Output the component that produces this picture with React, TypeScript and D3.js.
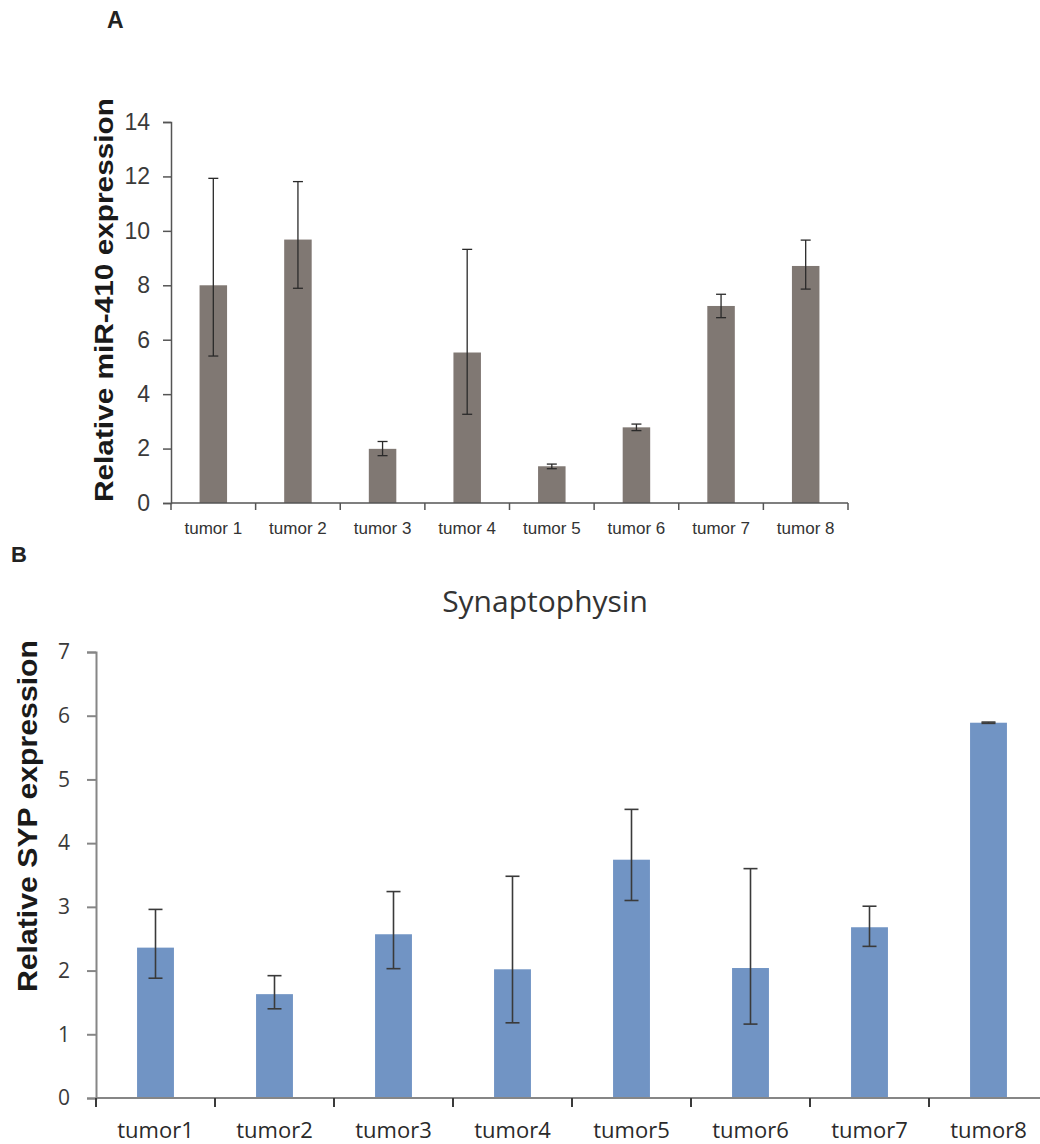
import React, { useEffect, useRef } from "react";
import * as d3 from "d3";

// panel A: miR-410
const tumorsA = ["tumor 1", "tumor 2", "tumor 3", "tumor 4", "tumor 5", "tumor 6", "tumor 7", "tumor 8"];
const mirValues = [8.0, 9.68, 1.99, 5.53, 1.35, 2.78, 7.24, 8.71];
const mirLow = [5.4, 7.89, 1.74, 3.26, 1.26, 2.66, 6.81, 7.86];
const mirHigh = [11.93, 11.81, 2.26, 9.32, 1.43, 2.9, 7.67, 9.66];
const mirTicks = [0, 2, 4, 6, 8, 10, 12, 14];

// panel B: synaptophysin
const tumorsB = ["tumor1", "tumor2", "tumor3", "tumor4", "tumor5", "tumor6", "tumor7", "tumor8"];
const sypValues = [2.36, 1.63, 2.57, 2.02, 3.74, 2.04, 2.68, 5.89];
const sypLow = [1.88, 1.4, 2.03, 1.18, 3.1, 1.16, 2.38, 5.88];
const sypHigh = [2.96, 1.92, 3.24, 3.48, 4.53, 3.6, 3.01, 5.9];
const sypTicks = [0, 1, 2, 3, 4, 5, 6, 7];

const W = 1040;
const H = 1144;

function App() {
  const ref = useRef(null);

  useEffect(() => {
    const svg = d3.select(ref.current);
    svg.selectAll("*").remove();

    // ---------- panel A ----------
    const a = { left: 171, right: 848, top: 122, bottom: 503 };
    const xA = d3.scaleBand().domain(tumorsA).range([a.left, a.right]).paddingInner(0.675).paddingOuter(0.3375);
    const yA = d3.scaleLinear().domain([0, 14]).range([a.bottom, a.top]);
    const stepA = (a.right - a.left) / tumorsA.length;

    svg.append("text").attr("x", 107).attr("y", 28)
      .attr("font-family", "Liberation Sans, Arial, sans-serif").attr("font-weight", "bold")
      .attr("font-size", 23).attr("fill", "#222").text("A");

    const gA = svg.append("g");
    gA.selectAll("rect.barA").data(mirValues).enter().append("rect")
      .attr("x", (d, i) => xA(tumorsA[i]))
      .attr("y", (d) => yA(d))
      .attr("width", xA.bandwidth())
      .attr("height", (d) => yA(0) - yA(d))
      .attr("fill", "#807873");

    // y axis
    const yAxisA = gA.append("g").attr("transform", `translate(${a.left},0)`)
      .call(d3.axisLeft(yA).tickValues(mirTicks).tickSize(8).tickPadding(13));
    yAxisA.select(".domain").attr("stroke", "#555").attr("stroke-width", 1.5);
    yAxisA.selectAll(".tick line").attr("stroke", "#555").attr("stroke-width", 1.5);
    yAxisA.selectAll(".tick text").attr("font-family", "Liberation Sans, Arial, sans-serif")
      .attr("font-size", 23).attr("fill", "#3a3a3a");

    // x axis with ticks on category boundaries
    gA.append("line").attr("x1", a.left).attr("x2", a.right).attr("y1", a.bottom).attr("y2", a.bottom)
      .attr("stroke", "#555").attr("stroke-width", 1.5);
    gA.selectAll("line.tickA").data(d3.range(tumorsA.length + 1)).enter().append("line")
      .attr("x1", (i) => a.left + i * stepA).attr("x2", (i) => a.left + i * stepA)
      .attr("y1", a.bottom).attr("y2", a.bottom + 7)
      .attr("stroke", "#555").attr("stroke-width", 1.5);
    gA.selectAll("text.labA").data(tumorsA).enter().append("text")
      .attr("x", (d) => xA(d) + xA.bandwidth() / 2).attr("y", 534)
      .attr("text-anchor", "middle")
      .attr("font-family", "Liberation Sans, Arial, sans-serif")
      .attr("font-size", 17).attr("fill", "#333").text((d) => d);

    // error bars
    gA.selectAll("g.errA").data(mirValues).enter().append("g").each(function (d, i) {
      const cx = xA(tumorsA[i]) + xA.bandwidth() / 2;
      const g = d3.select(this);
      g.append("line").attr("x1", cx).attr("x2", cx).attr("y1", yA(mirLow[i])).attr("y2", yA(mirHigh[i]));
      g.append("line").attr("x1", cx - 5).attr("x2", cx + 5).attr("y1", yA(mirLow[i])).attr("y2", yA(mirLow[i]));
      g.append("line").attr("x1", cx - 5).attr("x2", cx + 5).attr("y1", yA(mirHigh[i])).attr("y2", yA(mirHigh[i]));
      g.selectAll("line").attr("stroke", "#2a2a2a").attr("stroke-width", 1.3);
    });

    svg.append("text")
      .attr("transform", `translate(113,300) rotate(-90)`)
      .attr("text-anchor", "middle")
      .attr("textLength", 404).attr("lengthAdjust", "spacingAndGlyphs")
      .attr("font-family", "Liberation Sans, Arial, sans-serif").attr("font-weight", "bold")
      .attr("font-size", 26).attr("fill", "#1a1a1a").text("Relative miR-410 expression");

    // ---------- panel B ----------
    const b = { left: 96, right: 1048, top: 652, bottom: 1098 };
    const xB = d3.scaleBand().domain(tumorsB).range([b.left, b.right]).paddingInner(0.69).paddingOuter(0.345);
    const yB = d3.scaleLinear().domain([0, 7]).range([b.bottom, b.top]);
    const stepB = (b.right - b.left) / tumorsB.length;

    svg.append("text").attr("x", 11).attr("y", 562)
      .attr("font-family", "Liberation Sans, Arial, sans-serif").attr("font-weight", "bold")
      .attr("font-size", 22).attr("fill", "#222").text("B");

    svg.append("text").attr("x", 545).attr("y", 612).attr("text-anchor", "middle")
      .attr("font-family", "Open Sans, Noto Sans, sans-serif")
      .attr("font-size", 30).attr("fill", "#333").text("Synaptophysin");

    const gB = svg.append("g");
    gB.selectAll("rect.barB").data(sypValues).enter().append("rect")
      .attr("x", (d, i) => xB(tumorsB[i]))
      .attr("y", (d) => yB(d))
      .attr("width", xB.bandwidth())
      .attr("height", (d) => yB(0) - yB(d))
      .attr("fill", "#7194c4");

    const yAxisB = gB.append("g").attr("transform", `translate(${b.left},0)`)
      .call(d3.axisLeft(yB).tickValues(sypTicks).tickFormat(d3.format("d")).tickSize(9).tickPadding(17));
    yAxisB.select(".domain").attr("stroke", "#868686").attr("stroke-width", 2);
    yAxisB.selectAll(".tick line").attr("stroke", "#868686").attr("stroke-width", 2);
    yAxisB.selectAll(".tick text").attr("font-family", "Open Sans, Noto Sans, sans-serif")
      .attr("font-size", 21).attr("fill", "#3a3a3a");

    gB.append("line").attr("x1", b.left).attr("x2", b.right).attr("y1", b.bottom).attr("y2", b.bottom)
      .attr("stroke", "#868686").attr("stroke-width", 2);
    gB.selectAll("line.tickB").data(d3.range(tumorsB.length + 1)).enter().append("line")
      .attr("x1", (i) => b.left + i * stepB).attr("x2", (i) => b.left + i * stepB)
      .attr("y1", b.bottom).attr("y2", b.bottom + 9)
      .attr("stroke", "#3a3a3a").attr("stroke-width", 2);
    gB.selectAll("text.labB").data(tumorsB).enter().append("text")
      .attr("x", (d) => xB(d) + xB.bandwidth() / 2).attr("y", 1138)
      .attr("text-anchor", "middle")
      .attr("font-family", "Open Sans, Noto Sans, sans-serif")
      .attr("font-size", 22).attr("fill", "#2a2a2a").text((d) => d);

    gB.selectAll("g.errB").data(sypValues).enter().append("g").each(function (d, i) {
      const cx = xB(tumorsB[i]) + xB.bandwidth() / 2;
      const g = d3.select(this);
      g.append("line").attr("x1", cx).attr("x2", cx).attr("y1", yB(sypLow[i])).attr("y2", yB(sypHigh[i]));
      g.append("line").attr("x1", cx - 7).attr("x2", cx + 7).attr("y1", yB(sypLow[i])).attr("y2", yB(sypLow[i]));
      g.append("line").attr("x1", cx - 7).attr("x2", cx + 7).attr("y1", yB(sypHigh[i])).attr("y2", yB(sypHigh[i]));
      g.selectAll("line").attr("stroke", "#3a3a3a").attr("stroke-width", 1.6);
    });

    svg.append("text")
      .attr("transform", `translate(37,816) rotate(-90)`)
      .attr("text-anchor", "middle")
      .attr("textLength", 352).attr("lengthAdjust", "spacingAndGlyphs")
      .attr("font-family", "Liberation Sans, Arial, sans-serif").attr("font-weight", "bold")
      .attr("font-size", 27).attr("fill", "#1a1a1a").text("Relative SYP expression");
  }, []);

  return (
    <div style={{ position: "absolute", left: 0, top: 0, background: "#fff" }}>
      <svg ref={ref} width={W} height={H} style={{ display: "block" }} />
    </div>
  );
}

export default App;
